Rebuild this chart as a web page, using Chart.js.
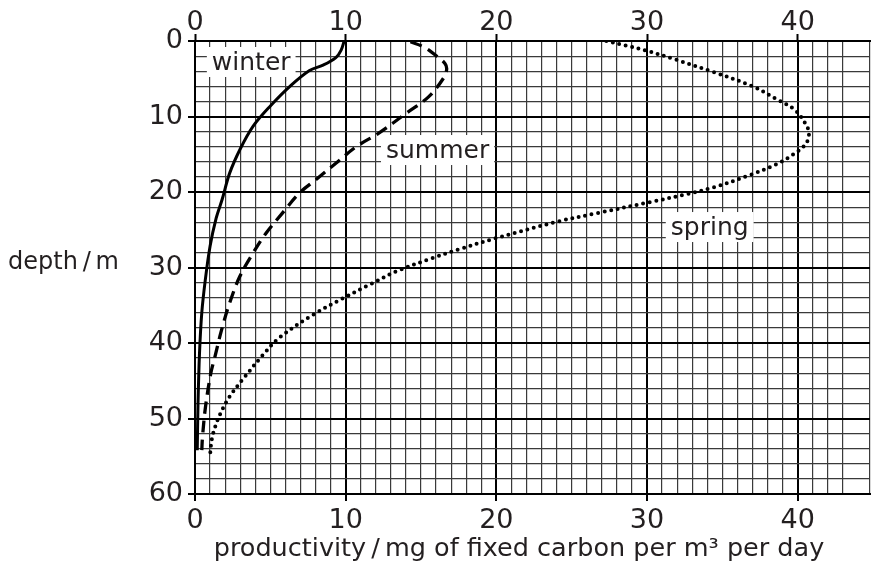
<!DOCTYPE html>
<html>
<head>
<meta charset="utf-8">
<script src="https://cdn.jsdelivr.net/npm/chart.js@4.4.1/dist/chart.umd.min.js"></script>
<style>
  body { margin: 0; background: #fff; }
  #wrap { width: 874px; height: 569px; }
</style>
</head>
<body>
<div id="wrap"><canvas id="prodChart" width="874" height="569"></canvas></div>
<script>
// --- data: productivity (x) against depth (y, metres) ---
const winterProd  = [9.9, 9.7, 9.35, 8.5, 7.6, 6.3, 5.0, 3.85, 3.0, 2.3, 1.8, 1.4, 1.0, 0.68, 0.45, 0.3, 0.2, 0.15];
const winterDepth = [0, 1.2, 2.2, 3.2, 3.9, 6.0, 8.6, 11.3, 14.3, 17.5, 21, 23.5, 27.2, 31.7, 36, 41.3, 48, 54.2];

const summerProd  = [14.3, 15.2, 15.95, 16.6, 16.7, 16.5, 15.5, 14.0, 12.2, 10.7, 9.35, 8.0, 6.9, 5.8, 4.7, 3.85, 2.97, 2.3, 1.76, 1.3, 1.05, 0.7, 0.5, 0.45];
const summerDepth = [0.1, 0.8, 1.85, 3.0, 3.8, 4.9, 7.4, 9.6, 12.2, 14.0, 16.2, 18.4, 20.2, 22.8, 25.5, 28.1, 31.2, 34.7, 38.3, 42, 44, 48.4, 52.4, 54.2];

const springProd  = [27.3, 28.6, 30, 31.8, 34.4, 37.0, 38.6, 39.8, 40.5, 40.75, 40.55, 39.8, 38.6, 36.9, 34.4, 32.6, 30.3, 26.7, 24.1, 20.0, 17.5, 15.7, 13.5, 11.55, 9.8, 7.8, 5.6, 4.5, 3.3, 2.3, 1.65, 1.2, 1.05, 1.0];
const springDepth = [0, 0.6, 1.3, 2.4, 4.1, 6.0, 7.7, 9.1, 10.9, 12.2, 13.6, 14.9, 16.3, 17.7, 19.4, 20.3, 21.3, 22.8, 23.9, 26.1, 27.6, 28.8, 30.4, 32.3, 34.1, 36.3, 39.3, 41.6, 44.5, 47.1, 49.5, 52, 53.7, 55];

const xLabelTicks = [0, 10, 20, 30, 40];
const depthLabelTicks = [0, 10, 20, 30, 40, 50, 60];
const seriesNames = ['winter', 'summer', 'spring'];
const seriesNameSpots = [[3.73, 3.84], [16.1, 15.5], [34.16, 25.7]]; // text baseline centre, data units

const INK = '#231f20';
const FONT = '"DejaVu Sans", sans-serif';

function toPoints(xs, ys) { return xs.map((x, i) => ({ x: x, y: ys[i] })); }
function isMajor(v) { return Math.abs(v % 10) < 1e-6; }

// grid look shared by the axes that draw on the chart area
const gridOpts = {
    color: c => (c.tick && isMajor(c.tick.value)) ? '#000' : '#3a3a3a',
    lineWidth: c => (c.tick && isMajor(c.tick.value)) ? 2 : 1.2,
    tickLength: 7,
    tickColor: c => (c.tick && isMajor(c.tick.value)) ? '#000' : 'rgba(0,0,0,0)',
    tickWidth: 2
};

const textPlugin = {
    id: 'textPlugin',
    afterDatasetsDraw(chart) {
        const ctx = chart.ctx;
        const xs = chart.scales.x, ys = chart.scales.y;
        ctx.save();
        ctx.font = '25px ' + FONT;
        ctx.textBaseline = 'alphabetic';
        ctx.textAlign = 'center';
        seriesNames.forEach((name, i) => {
            const px = xs.getPixelForValue(seriesNameSpots[i][0]);
            const py = ys.getPixelForValue(seriesNameSpots[i][1]);
            const w = ctx.measureText(name).width;
            ctx.fillStyle = '#fff';
            ctx.fillRect(px - w / 2 - 5, py - 23, w + 10, 30);
            ctx.fillStyle = INK;
            ctx.fillText(name, px, py);
        });
        ctx.font = '24px ' + FONT;
        ctx.textAlign = 'left';
        ctx.fillText('depth\u2009/\u2009m', 8, 269);
        ctx.font = '25.5px ' + FONT;
        ctx.textAlign = 'center';
        ctx.fillText('productivity\u2009/\u2009mg of fixed carbon per m\u00b3 per day', 519, 556);
        ctx.restore();
    }
};

const lineBase = { showLine: true, pointRadius: 0, borderColor: '#000', tension: 0.35, fill: false };

new Chart(document.getElementById('prodChart'), {
    type: 'scatter',
    data: {
        datasets: [
            Object.assign({ label: 'winter', data: toPoints(winterProd, winterDepth), borderWidth: 3 }, lineBase),
            Object.assign({ label: 'summer', data: toPoints(summerProd, summerDepth), borderWidth: 3.3, borderDash: [12, 7] }, lineBase),
            Object.assign({ label: 'spring', data: toPoints(springProd, springDepth), borderWidth: 4, borderDash: [0, 6.6], borderCapStyle: 'round' }, lineBase)
        ]
    },
    options: {
        responsive: false,
        animation: false,
        devicePixelRatio: 1,
        layout: { padding: 0 },
        plugins: { legend: { display: false }, tooltip: { enabled: false } },
        scales: {
            x: {
                type: 'linear', position: 'bottom', min: 0, max: 44.8,
                ticks: {
                    stepSize: 1, autoSkip: false, maxRotation: 0, padding: 4,
                    color: INK, font: { family: FONT, size: 27 },
                    callback: v => xLabelTicks.includes(v) ? String(v) : ''
                },
                grid: gridOpts,
                border: { color: '#000', width: 2 },
                afterFit: s => { s.height = 75; }
            },
            x2: {
                type: 'linear', position: 'top', min: 0, max: 44.8,
                afterBuildTicks: s => { s.ticks = xLabelTicks.map(v => ({ value: v })); },
                ticks: {
                    autoSkip: false, maxRotation: 0, padding: -5,
                    color: INK, font: { family: FONT, size: 27 }
                },
                grid: { drawOnChartArea: false, tickLength: 7, tickWidth: 2, tickColor: '#000' },
                border: { color: '#000', width: 2 },
                afterFit: s => { s.height = 41; }
            },
            y: {
                type: 'linear', reverse: true, min: 0, max: 60,
                ticks: {
                    stepSize: 2, autoSkip: false, padding: 5,
                    color: INK, font: { family: FONT, size: 27 },
                    callback: v => depthLabelTicks.includes(v) ? String(v) : ''
                },
                grid: gridOpts,
                border: { color: '#000', width: 2 },
                afterFit: s => { s.width = 195; }
            }
        }
    },
    plugins: [textPlugin]
});
</script>
</body>
</html>
